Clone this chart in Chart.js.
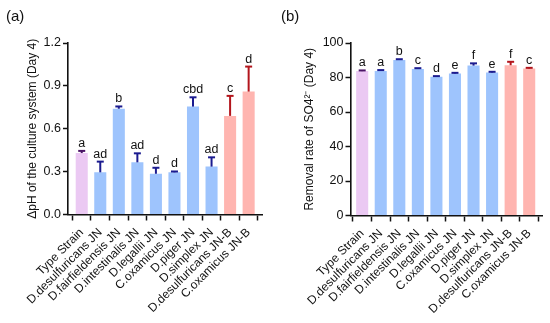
<!DOCTYPE html>
<html>
<head>
<meta charset="utf-8">
<script src="https://cdn.jsdelivr.net/npm/chart.js@4/dist/chart.umd.min.js"></script>
<style>
  html, body { margin: 0; padding: 0; background: #fff; }
  body { width: 550px; height: 323px; position: relative; overflow: hidden; font-family: "Liberation Sans", Arial, sans-serif; }
  .panel { position: absolute; top: 0; width: 275px; height: 323px; }
  .plabel { position: absolute; top: 7px; font-size: 15px; color: #111; }
</style>
</head>
<body>
<div class="panel" style="left:0"><canvas id="chartA" width="275" height="323"></canvas></div>
<div class="panel" style="left:275px"><canvas id="chartB" width="275" height="323"></canvas></div>
<div class="plabel" style="left:6px">(a)</div>
<div class="plabel" style="left:281px">(b)</div>
<script>
// ---- data ----
const categories = ["Type Strain", "D.desulfuricans JN", "D.fairfieldensis JN", "D.intestinalis JN", "D.legallii JN", "C.oxamicus JN", "D.piger JN", "D.simplex JN", "D.desulfuricans JN-B", "C.oxamicus JN-B"];
const groups = ["type", "jn", "jn", "jn", "jn", "jn", "jn", "jn", "jnb", "jnb"];

const dphValues  = [0.43, 0.295, 0.74, 0.365, 0.285, 0.295, 0.755, 0.335, 0.69, 0.86];
const dphErrors  = [0.015, 0.075, 0.016, 0.063, 0.042, 0.006, 0.065, 0.065, 0.14, 0.175];
const dphLetters = ["a", "ad", "b", "ad", "d", "d", "cbd", "ad", "c", "d"];
const dphTicks   = [0, 0.3, 0.6, 0.9, 1.2];

const removalValues  = [83.7, 83.8, 90.2, 85.0, 80.4, 82.3, 86.9, 82.9, 87.1, 85.2];
const removalErrors  = [0.4, 0.5, 0.4, 0.4, 0.4, 0.4, 1.3, 0.4, 2.0, 0.4];
const removalLetters = ["a", "a", "b", "c", "d", "e", "f", "e", "f", "c"];
const removalTicks   = [0, 20, 40, 60, 80, 100];

// ---- styles ----
const FONT = "'Liberation Sans', Arial, Helvetica, sans-serif";
const barColors = { type: "#ebc9f3", jn: "#9ec4fd", jnb: "#ffb5b0" };
const errColors = { type: "#4a1466", jn: "#1b1b8f", jnb: "#b3151c" };

const errorBarPlugin = {
  id: "errorBars",
  afterDatasetsDraw(chart, args, opts) {
    const meta = chart.getDatasetMeta(0);
    const ys = chart.scales.y;
    const ctx = chart.ctx;
    ctx.save();
    meta.data.forEach((bar, i) => {
      const v = opts.values[i], e = opts.errors[i];
      const x = bar.x;
      const yTop = ys.getPixelForValue(v);
      const yCap = ys.getPixelForValue(v + e);
      const col = errColors[groups[i]];
      ctx.strokeStyle = col;
      ctx.lineWidth = 2;
      ctx.beginPath();
      ctx.moveTo(x, yTop);
      ctx.lineTo(x, yCap);
      ctx.stroke();
      ctx.beginPath();
      ctx.moveTo(x - 3.5, yCap);
      ctx.lineTo(x + 3.5, yCap);
      ctx.stroke();
      ctx.fillStyle = "#111";
      ctx.font = "12.5px " + FONT;
      ctx.textAlign = "center";
      ctx.textBaseline = "alphabetic";
      ctx.fillText(opts.letters[i], x, yCap - 4);
    });
    ctx.restore();
  }
};

function makeChart(id, cfg) {
  return new Chart(document.getElementById(id), {
    type: "bar",
    data: {
      datasets: [{
        data: cfg.values.map((v, i) => ({ x: i, y: v })),
        backgroundColor: groups.map(g => barColors[g]),
        borderWidth: 0,
        categoryPercentage: 1,
        barPercentage: 0.65
      }]
    },
    plugins: [errorBarPlugin],
    options: {
      responsive: false,
      animation: false,
      layout: { padding: { left: 0, right: cfg.padRight, top: cfg.padTop, bottom: 0 } },
      plugins: {
        legend: { display: false },
        tooltip: { enabled: false },
        errorBars: { values: cfg.values, errors: cfg.errors, letters: cfg.letters }
      },
      scales: {
        x: {
          type: "linear",
          offset: false,
          min: cfg.xMin,
          max: cfg.xMax,
          afterBuildTicks: s => { s.ticks = categories.map((_, i) => ({ value: i })); },
          afterFit: s => { s.height = cfg.xHeight; },
          ticks: {
            callback: v => categories[v],
            autoSkip: false,
            maxRotation: 45,
            minRotation: 45,
            padding: 5,
            color: "#111",
            font: { family: FONT, size: 12 }
          },
          grid: { display: true, drawOnChartArea: false, drawTicks: true, tickLength: 6, tickWidth: 1.5, tickColor: "#111" },
          border: { display: true, color: "#111", width: 1.6 }
        },
        y: {
          min: cfg.yTicks[0],
          max: cfg.yTicks[cfg.yTicks.length - 1],
          afterBuildTicks: s => { s.ticks = cfg.yTicks.map(v => ({ value: v })); },
          afterFit: s => { s.width = cfg.yWidth; },
          ticks: {
            callback: cfg.tickFmt,
            padding: 2,
            color: "#111",
            font: { family: FONT, size: 12.5 }
          },
          grid: { display: true, drawOnChartArea: false, drawTicks: true, tickLength: 5, tickWidth: 1.5, tickColor: "#111" },
          border: { display: true, color: "#111", width: 1.6 },
          title: {
            display: true,
            text: cfg.yTitle,
            color: "#111",
            font: { family: FONT, size: 12 },
            padding: { top: cfg.titlePad, bottom: 0 }
          }
        }
      }
    }
  });
}

makeChart("chartA", {
  values: dphValues, errors: dphErrors, letters: dphLetters, yTicks: dphTicks,
  tickFmt: v => v.toFixed(1),
  yTitle: "\u0394pH of the culture system (Day 4)",
  xMin: -0.74, xMax: 9.72,
  yWidth: 68, padRight: 13, padTop: 43, xHeight: 108.5, titlePad: 25
});

makeChart("chartB", {
  values: removalValues, errors: removalErrors, letters: removalLetters, yTicks: removalTicks,
  tickFmt: v => String(v),
  yTitle: "Removal rate of SO4\u00B2\u207B (Day 4)",
  xMin: -0.63, xMax: 9.69,
  yWidth: 75.5, padRight: 8, padTop: 43, xHeight: 107.5, titlePad: 27
});
</script>
</body>
</html>
